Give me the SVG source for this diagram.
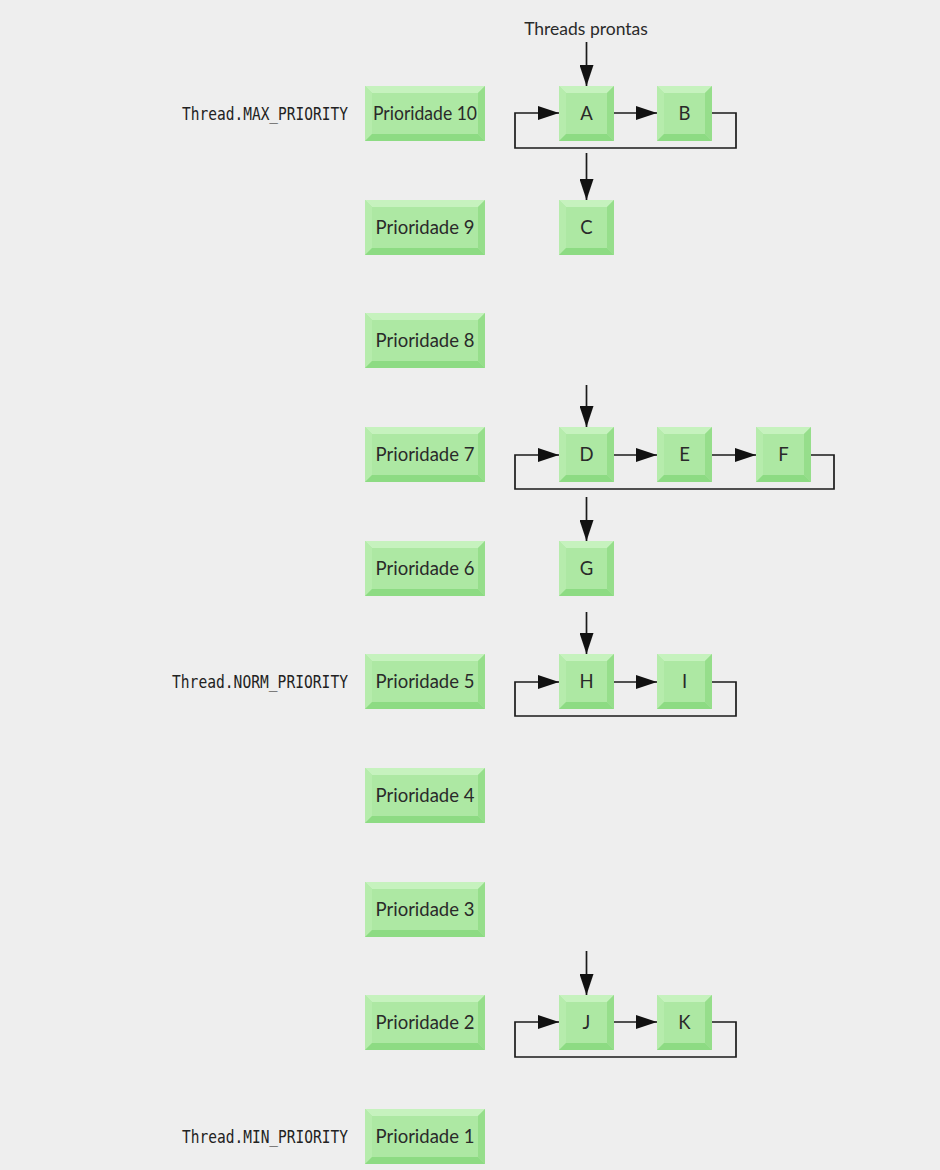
<svg xmlns="http://www.w3.org/2000/svg" xmlns:xlink="http://www.w3.org/1999/xlink" width="940" height="1170" viewBox="0 0 940 1170">
<style>
.bg{fill:#eeeeee}
.face{fill:#ade8a3}
.bt{fill:#c6f2be}
.bl{fill:#b6ecac}
.br{fill:#96de8b}
.bb{fill:#8ddb83}
.lbl{font-family:Lato,"Open Sans","Liberation Sans",sans-serif;font-size:18.5px;fill:#2a2a2a;text-anchor:middle}
.mono{font-family:"DejaVu Sans Mono","Liberation Mono",monospace;font-size:17px;fill:#222;text-anchor:end}
.title{font-family:Lato,"Open Sans","Liberation Sans",sans-serif;font-size:17.5px;fill:#2a2a2a;text-anchor:middle}
.con{fill:none;stroke:#1a1a1a;stroke-width:1.7}
</style>
<defs>
<marker id="arr" markerUnits="userSpaceOnUse" markerWidth="21" markerHeight="14" refX="21" refY="7" orient="auto">
<path d="M0,0 L21,7 L0,14 Z" fill="#111"/>
</marker>
<symbol id="pbox" viewBox="0 0 120 55" width="120" height="55">
<rect class="face" x="0" y="0" width="120" height="55"/>
<polygon class="bt" points="0,0 120,0 113,7 7,7"/>
<polygon class="bl" points="0,0 7,7 7,48 0,55"/>
<polygon class="br" points="120,0 120,55 113,48 113,7"/>
<polygon class="bb" points="0,55 120,55 113,48 7,48"/>
</symbol>
<symbol id="nbox" viewBox="0 0 55 55" width="55" height="55">
<rect class="face" x="0" y="0" width="55" height="55"/>
<polygon class="bt" points="0,0 55,0 48,7 7,7"/>
<polygon class="bl" points="0,0 7,7 7,48 0,55"/>
<polygon class="br" points="55,0 55,55 48,48 48,7"/>
<polygon class="bb" points="0,55 55,55 48,48 7,48"/>
</symbol>
</defs>
<rect class="bg" x="0" y="0" width="940" height="1170"/>

<text class="title" x="586" y="35">Threads prontas</text>
<text class="mono" x="348" y="120" textLength="166" lengthAdjust="spacingAndGlyphs">Thread.MAX_PRIORITY</text>
<text class="mono" x="348" y="688" textLength="176" lengthAdjust="spacingAndGlyphs">Thread.NORM_PRIORITY</text>
<text class="mono" x="348" y="1143" textLength="166" lengthAdjust="spacingAndGlyphs">Thread.MIN_PRIORITY</text>

<g id="p10"><use href="#pbox" x="365" y="86"/><text class="lbl" x="425" y="120" textLength="104" lengthAdjust="spacingAndGlyphs">Prioridade 10</text></g>
<g id="p9"><use href="#pbox" x="365" y="200"/><text class="lbl" x="425" y="234">Prioridade 9</text></g>
<g id="p8"><use href="#pbox" x="365" y="313"/><text class="lbl" x="425" y="347">Prioridade 8</text></g>
<g id="p7"><use href="#pbox" x="365" y="427"/><text class="lbl" x="425" y="461">Prioridade 7</text></g>
<g id="p6"><use href="#pbox" x="365" y="541"/><text class="lbl" x="425" y="575">Prioridade 6</text></g>
<g id="p5"><use href="#pbox" x="365" y="654"/><text class="lbl" x="425" y="688">Prioridade 5</text></g>
<g id="p4"><use href="#pbox" x="365" y="768"/><text class="lbl" x="425" y="802">Prioridade 4</text></g>
<g id="p3"><use href="#pbox" x="365" y="882"/><text class="lbl" x="425" y="916">Prioridade 3</text></g>
<g id="p2"><use href="#pbox" x="365" y="995"/><text class="lbl" x="425" y="1029">Prioridade 2</text></g>
<g id="p1"><use href="#pbox" x="365" y="1109"/><text class="lbl" x="425" y="1143">Prioridade 1</text></g>

<g id="nA"><use href="#nbox" x="559" y="86"/><text class="lbl" x="586.5" y="120">A</text></g>
<g id="nB"><use href="#nbox" x="657" y="86"/><text class="lbl" x="684.5" y="120">B</text></g>
<g id="nC"><use href="#nbox" x="559" y="200"/><text class="lbl" x="586.5" y="234">C</text></g>
<g id="nD"><use href="#nbox" x="559" y="427"/><text class="lbl" x="586.5" y="461">D</text></g>
<g id="nE"><use href="#nbox" x="657" y="427"/><text class="lbl" x="684.5" y="461">E</text></g>
<g id="nF"><use href="#nbox" x="756" y="427"/><text class="lbl" x="783.5" y="461">F</text></g>
<g id="nG"><use href="#nbox" x="559" y="541"/><text class="lbl" x="586.5" y="575">G</text></g>
<g id="nH"><use href="#nbox" x="559" y="654"/><text class="lbl" x="586.5" y="688">H</text></g>
<g id="nI"><use href="#nbox" x="657" y="654"/><text class="lbl" x="684.5" y="688">I</text></g>
<g id="nJ"><use href="#nbox" x="559" y="995"/><text class="lbl" x="586.5" y="1029">J</text></g>
<g id="nK"><use href="#nbox" x="657" y="995"/><text class="lbl" x="684.5" y="1029">K</text></g>

<g id="connectors" class="con">
<path d="M586.5,42 V86" marker-end="url(#arr)"/>
<path d="M614,113 H657" marker-end="url(#arr)"/>
<path d="M712,113 H736 V148 H515 V113 H559" marker-end="url(#arr)"/>
<path d="M586.5,153 V200" marker-end="url(#arr)"/>

<path d="M586.5,385 V427" marker-end="url(#arr)"/>
<path d="M614,455 H657" marker-end="url(#arr)"/>
<path d="M712,455 H756" marker-end="url(#arr)"/>
<path d="M811,455 H834 V489 H515 V455 H559" marker-end="url(#arr)"/>
<path d="M586.5,497 V541" marker-end="url(#arr)"/>

<path d="M586.5,612 V654" marker-end="url(#arr)"/>
<path d="M614,682 H657" marker-end="url(#arr)"/>
<path d="M712,682 H736 V716 H515 V682 H559" marker-end="url(#arr)"/>

<path d="M586.5,951 V995" marker-end="url(#arr)"/>
<path d="M614,1022 H657" marker-end="url(#arr)"/>
<path d="M712,1022 H736 V1057 H515 V1022 H559" marker-end="url(#arr)"/>
</g>
</svg>
